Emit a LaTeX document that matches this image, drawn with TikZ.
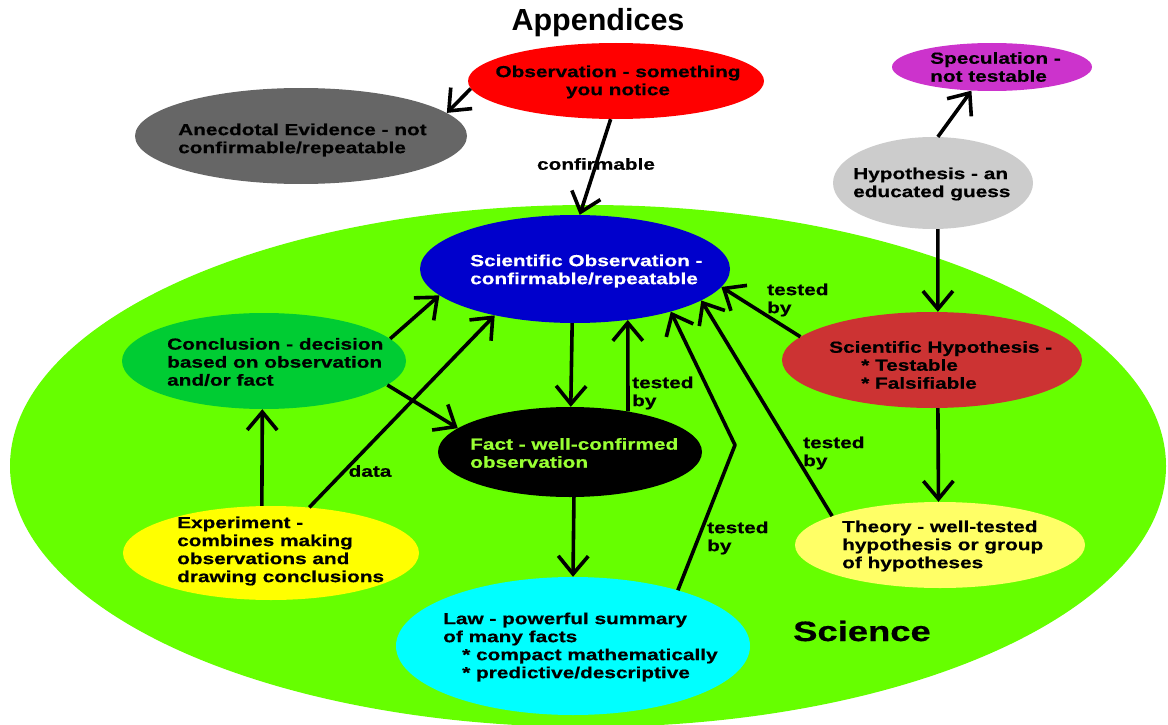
\documentclass[tikz,border=0pt]{standalone}
\usepackage{fontspec}
\newfontfamily\lbl{Liberation Sans}[FakeStretch=1.3,BoldFeatures={FakeBold=0.6}]
\newfontfamily\ttl{Liberation Sans}
\usetikzlibrary{shapes.geometric,arrows.meta}
\definecolor{cSci}{HTML}{66FF00}
\definecolor{cObs}{HTML}{FF0000}
\definecolor{cAnec}{HTML}{666666}
\definecolor{cSpec}{HTML}{CC33CC}
\definecolor{cHyp}{HTML}{CCCCCC}
\definecolor{cSobs}{HTML}{0000CC}
\definecolor{cConcl}{HTML}{00CC33}
\definecolor{cShyp}{HTML}{CC3333}
\definecolor{cFactTxt}{HTML}{99FF33}
\definecolor{cExp}{HTML}{FFFF00}
\definecolor{cTheory}{HTML}{FFFF66}
\definecolor{cLaw}{HTML}{00FFFF}
\tikzset{
  blob/.style={ellipse, draw=none, inner sep=0pt},
  txt/.style={font=\lbl\bfseries\fontsize{16}{18}\selectfont, align=left, inner sep=0pt, anchor=west},
  arr/.style={line width=3.6pt, line join=round, -{Straight Barb[length=18pt,width=30pt,line width=3.6pt]}}
}
\begin{document}
\begin{tikzpicture}[x=1pt,y=-1pt]
\useasboundingbox (0,0) rectangle (1168,725);
\clip (0,0) rectangle (1168,725);
% science region
\node[blob, fill=cSci, minimum width=1156pt, minimum height=522pt] (sci) at (588,466) {};
% ellipses
\node[blob, fill=cObs, minimum width=296pt, minimum height=76pt] (obs) at (616,81) {};
\node[blob, fill=cAnec, minimum width=332pt, minimum height=96pt] (anec) at (301,136) {};
\node[blob, fill=cSpec, minimum width=200pt, minimum height=48pt] (spec) at (992,67) {};
\node[blob, fill=cHyp, minimum width=200pt, minimum height=92pt] (hyp) at (933,183) {};
\node[blob, fill=cSobs, minimum width=310pt, minimum height=108pt] (sobs) at (575,269) {};
\node[blob, fill=cConcl, minimum width=284pt, minimum height=96pt] (concl) at (264,361) {};
\node[blob, fill=cShyp, minimum width=300pt, minimum height=96pt] (shyp) at (932,360) {};
\node[blob, fill=black, minimum width=264pt, minimum height=90pt] (fact) at (570,452) {};
\node[blob, fill=cExp, minimum width=296pt, minimum height=94pt] (exp) at (271,553) {};
\node[blob, fill=cTheory, minimum width=290pt, minimum height=86pt] (theory) at (940,545) {};
\node[blob, fill=cLaw, minimum width=354pt, minimum height=138pt] (law) at (573,646) {};
\coordinate (bend) at (735,445);
% connectors
\draw[arr] (obs.183) -- (anec.9);
\draw[arr] (obs.262) -- (sobs.85);
\draw[arr] (hyp.84) -- (spec.229);
\draw[arr] (hyp.276) -- (shyp.83);
\draw[arr] (shyp.170) -- (sobs.-7);
\draw[arr] (shyp.-83) -- (theory.92);
\draw[arr] (theory.165) -- (sobs.-14);
\draw[arr] (law.28) -- (bend) -- (sobs.-24);
\draw[arr] (fact.35) -- (sobs.-44);
\draw[arr] (sobs.267) -- (fact.89);
\draw[arr] (fact.-85) -- (law.90);
\draw[arr] (concl.10) -- (sobs.191);
\draw[arr] (concl.-11) -- (fact.168);
\draw[arr] (exp.101) -- (concl.268);
\draw[arr] (exp.50) -- (sobs.210);
% texts
\node[font=\ttl\bfseries\fontsize{30.5}{34}\selectfont, inner sep=0pt] (title) at (598,23) {Appendices};
\node[font=\lbl\bfseries\fontsize{28}{32}\selectfont, inner sep=0pt] (scitxt) at (862,631) {Science};
\node[txt, anchor=center, align=center] (tobs) at (618,82) {Observation - something\\you notice};
\node[txt] (tanec) at (178,140) {Anecdotal Evidence - not\\confirmable/repeatable};
\node[txt] (tspec) at (930,67) {Speculation -\\not testable};
\node[txt] (thyp) at (853,184) {Hypothesis - an\\educated guess};
\node[txt, text=white] (tsobs) at (470,271) {Scientific Observation -\\confirmable/repeatable};
\node[txt] (tconcl) at (167,362) {Conclusion - decision\\based on observation\\and/or fact};
\node[txt] (tshyp) at (829,365) {Scientific Hypothesis -\\\hspace*{32pt}* Testable\\\hspace*{32pt}* Falsifiable};
\node[txt, text=cFactTxt] (tfact) at (470,453) {Fact - well-confirmed\\observation};
\node[txt] (texp) at (177,551) {Experiment -\\combines making\\observations and\\drawing conclusions};
\node[txt] (ttheory) at (842,546) {Theory - well-tested\\hypothesis or group\\of hypotheses};
\node[txt] (tlaw) at (443,647) {Law - powerful summary\\of many facts\\\hspace*{19pt}* compact mathematically\\\hspace*{19pt}* predictive/descriptive};
\node[txt, anchor=center] (lconf) at (596,164) {confirmable};
\node[txt, anchor=center] (ldata) at (370,471) {data};
\node[txt] (lt1) at (767,300) {tested\\by};
\node[txt] (lt2) at (803,453) {tested\\by};
\node[txt] (lt3) at (632,393) {tested\\by};
\node[txt] (lt4) at (707,538) {tested\\by};
\end{tikzpicture}
\end{document}
